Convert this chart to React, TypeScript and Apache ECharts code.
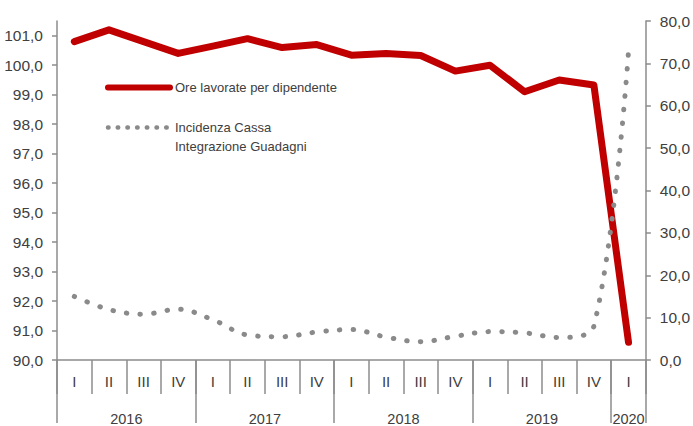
import React, { useEffect, useRef } from 'react';
import * as echarts from 'echarts';

const YEARS = ['2016', '2017', '2018', '2019', '2020'];
const QUARTERS_PER_YEAR = [4, 4, 4, 4, 1];
const QUARTER_LABELS = ['I', 'II', 'III', 'IV'];

const SERIES_ORE = 'Ore lavorate per dipendente';
const SERIES_CIG = 'Incidenza Cassa Integrazione Guadagni';
const LEGEND_CIG = '\nIncidenza Cassa\nIntegrazione Guadagni';

const ORE_LAVORATE = [100.8, 101.2, 100.8, 100.4, 100.65, 100.9, 100.6, 100.7, 100.34, 100.4, 100.33, 99.8, 100.0, 99.1, 99.5, 99.33, 90.6];
const INCIDENZA_CIG = [15.0, 11.9, 10.8, 12.0, 9.5, 5.9, 5.5, 6.6, 7.2, 5.4, 4.3, 5.6, 6.7, 6.4, 5.3, 8.0, 72.8];

const LEFT_MIN = 90;
const LEFT_MAX = 101.5;
const LEFT_STEP = 1;
const RIGHT_MIN = 0;
const RIGHT_MAX = 80;
const RIGHT_STEP = 10;

const FONT = "'Liberation Sans', Arial, sans-serif";
const TEXT = '#404040';
const AXIS = '#8c8c8c';
const RED = '#C00000';
const GREY = '#8a8a8a';

const CATEGORIES: string[] = [];
const QUARTER_OF: string[] = [];
const yearLabelAt: Record<number, { text: string; shift: boolean }> = {};
const yearBoundaries = new Set<number>();
(() => {
  let start = 0;
  YEARS.forEach((y, yi) => {
    const n = QUARTERS_PER_YEAR[yi];
    yearBoundaries.add(start);
    yearLabelAt[start + Math.floor((n - 1) / 2)] = { text: y, shift: n % 2 === 0 };
    for (let q = 0; q < n; q++) {
      CATEGORIES.push(`${QUARTER_LABELS[q]} ${y}`);
      QUARTER_OF.push(QUARTER_LABELS[q]);
    }
    start += n;
  });
})();

const fmt = (v: number) => v.toFixed(1).replace('.', ',');

export default function App() {
  const ref = useRef<HTMLDivElement>(null);
  useEffect(() => {
    if (!ref.current) return;
    const chart = echarts.init(ref.current, undefined, { renderer: 'svg' });
    const gridLeft = 57;
    const gridRight = 44;
    const catW = (693 - gridLeft - gridRight) / CATEGORIES.length;
    chart.setOption({
      animation: false,
      backgroundColor: '#fff',
      textStyle: { fontFamily: FONT },
      grid: { left: gridLeft, right: gridRight, top: 21, bottom: 63, containLabel: false },
      legend: {
        orient: 'vertical',
        left: 105,
        top: 78,
        padding: 0,
        itemWidth: 62,
        itemHeight: 14,
        itemGap: 2,
        selectedMode: false,
        textStyle: { fontFamily: FONT, fontSize: 13, color: TEXT, lineHeight: 19 },
        formatter: (name: string) => (name === SERIES_CIG ? LEGEND_CIG : name),
        data: [
          {
            name: SERIES_ORE,
            itemStyle: { color: 'rgba(0,0,0,0)', borderColor: 'rgba(0,0,0,0)', borderWidth: 0 },
            lineStyle: { color: RED, width: 6, type: 'solid', cap: 'round' },
          },
          {
            name: SERIES_CIG,
            itemStyle: { color: 'rgba(0,0,0,0)', borderColor: 'rgba(0,0,0,0)', borderWidth: 0 },
            lineStyle: { color: GREY, width: 4.5, type: [0.5, 9.2], cap: 'round' },
          },
        ],
      },
      xAxis: [
        {
          type: 'category',
          position: 'bottom',
          data: CATEGORIES,
          boundaryGap: true,
          axisLine: { show: true, lineStyle: { color: AXIS, width: 1.5 } },
          axisTick: { show: true, interval: 0, length: 34, lineStyle: { color: AXIS, width: 1.5 } },
          axisLabel: {
            interval: 0,
            margin: 14,
            fontFamily: FONT,
            fontSize: 15,
            color: TEXT,
            formatter: (_v: string, i: number) => QUARTER_OF[i],
          },
          splitLine: { show: false },
        },
        {
          type: 'category',
          position: 'bottom',
          data: CATEGORIES,
          boundaryGap: true,
          axisLine: { show: false },
          axisTick: {
            show: true,
            interval: (i: number) => yearBoundaries.has(i),
            length: 63,
            lineStyle: { color: AXIS, width: 1.5 },
          },
          axisLabel: {
            interval: 0,
            margin: 51,
            fontFamily: FONT,
            fontSize: 14.5,
            color: TEXT,
            formatter: (_v: string, i: number) => {
              const y = yearLabelAt[i];
              if (!y) return '';
              return y.shift ? `{s|${y.text}}` : `{n|${y.text}}`;
            },
            rich: {
              s: { padding: [0, 0, 0, catW], fontFamily: FONT, fontSize: 14.5, color: TEXT },
              n: { fontFamily: FONT, fontSize: 14.5, color: TEXT },
            },
          },
          splitLine: { show: false },
        },
      ],
      yAxis: [
        {
          type: 'value',
          position: 'left',
          min: LEFT_MIN,
          max: LEFT_MAX,
          interval: LEFT_STEP,
          axisLine: { show: true, lineStyle: { color: AXIS, width: 1.5 } },
          axisTick: { show: true, length: 5, lineStyle: { color: AXIS, width: 1.5 } },
          axisLabel: {
            margin: 14,
            fontFamily: FONT,
            fontSize: 15.5,
            color: TEXT,
            showMaxLabel: false,
            formatter: (v: number) => (Number.isInteger(Math.round(v * 1000) / 1000) ? fmt(v) : ''),
          },
          splitLine: { show: false },
        },
        {
          type: 'value',
          position: 'right',
          min: RIGHT_MIN,
          max: RIGHT_MAX,
          interval: RIGHT_STEP,
          axisLine: { show: true, lineStyle: { color: AXIS, width: 1.5 } },
          axisTick: { show: true, length: 5, lineStyle: { color: AXIS, width: 1.5 } },
          axisLabel: { margin: 14, fontFamily: FONT, fontSize: 15.5, color: TEXT, formatter: (v: number) => fmt(v) },
          splitLine: { show: false },
        },
      ],
      series: [
        {
          name: SERIES_ORE,
          type: 'line',
          xAxisIndex: 0,
          yAxisIndex: 0,
          data: ORE_LAVORATE,
          symbol: 'none',
          lineStyle: { color: RED, width: 7, cap: 'round', join: 'round' },
          itemStyle: { color: RED },
          z: 2,
        },
        {
          name: SERIES_CIG,
          type: 'line',
          xAxisIndex: 0,
          yAxisIndex: 1,
          data: INCIDENZA_CIG,
          symbol: 'none',
          smooth: 0.35,
          lineStyle: { color: GREY, width: 5, type: [0.5, 13.2], cap: 'round' },
          itemStyle: { color: GREY },
          z: 3,
        },
      ],
    });
    return () => chart.dispose();
  }, []);
  return <div ref={ref} style={{ width: 693, height: 426, position: 'absolute', left: 0, top: 0 }} />;
}
